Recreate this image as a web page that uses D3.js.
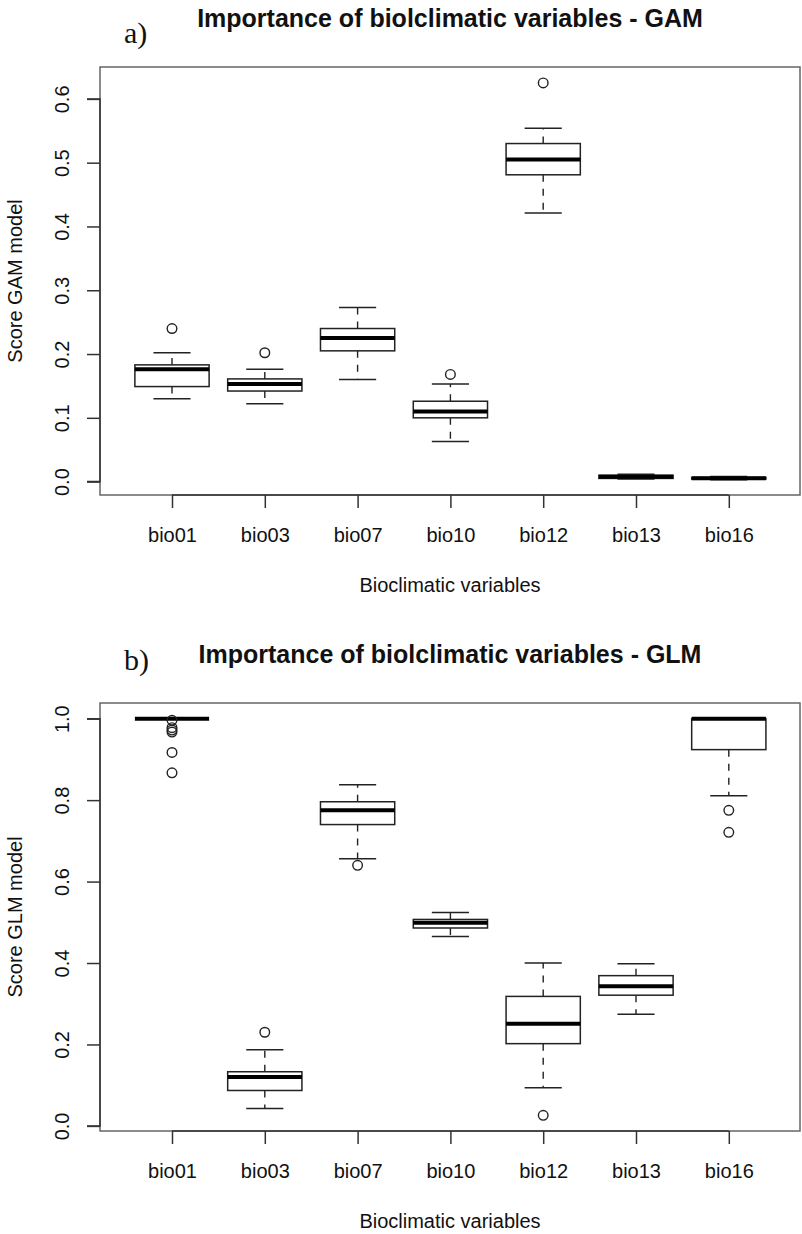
<!DOCTYPE html>
<html>
<head>
<meta charset="utf-8">
<script src="https://cdn.jsdelivr.net/npm/d3@7"></script>
<style>
  html, body { margin: 0; padding: 0; background: #fff; }
  svg { display: block; }
  text { font-family: "Liberation Sans", Arial, Helvetica, sans-serif; fill: #111; }
</style>
</head>
<body>
<svg id="chart" width="802" height="1234"></svg>
<script>
// Bioclimatic variables on the x axis
const categories = ["bio01", "bio03", "bio07", "bio10", "bio12", "bio13", "bio16"];

// GAM model importance scores: five-number summaries and outliers per variable
const gamLow    = [0.130, 0.122, 0.160, 0.063, 0.421, 0.004, 0.003];
const gamQ1     = [0.149, 0.142, 0.205, 0.100, 0.481, 0.005, 0.004];
const gamMedian = [0.176, 0.153, 0.225, 0.110, 0.505, 0.0075, 0.0052];
const gamQ3     = [0.183, 0.161, 0.240, 0.126, 0.530, 0.010, 0.0065];
const gamHigh   = [0.202, 0.176, 0.273, 0.153, 0.554, 0.0115, 0.008];
const gamOutliers = [[0.240], [0.202], [], [0.168], [0.625], [], []];

// GLM model importance scores
const glmLow    = [1.000, 0.043, 0.656, 0.465, 0.094, 0.274, 0.811];
const glmQ1     = [1.000, 0.087, 0.740, 0.486, 0.202, 0.321, 0.924];
const glmMedian = [1.000, 0.120, 0.775, 0.499, 0.251, 0.343, 1.000];
const glmQ3     = [1.000, 0.133, 0.796, 0.507, 0.318, 0.369, 1.000];
const glmHigh   = [1.000, 0.187, 0.838, 0.524, 0.400, 0.398, 1.000];
const glmOutliers = [[0.996, 0.978, 0.972, 0.967, 0.917, 0.867], [0.230], [0.640], [], [0.026], [], [0.775, 0.721]];

// Axis ticks and labels
const gamTicks = [0.0, 0.1, 0.2, 0.3, 0.4, 0.5, 0.6];
const glmTicks = [0.0, 0.2, 0.4, 0.6, 0.8, 1.0];
const titles = ["Importance of biolclimatic variables - GAM", "Importance of biolclimatic variables - GLM"];
const yTitles = ["Score GAM model", "Score GLM model"];
const panelTags = ["a)", "b)"];
const xTitle = "Bioclimatic variables";

// Layout of one panel (panel-local coordinates)
const plotLeft = 100, plotRight = 800, plotTop = 67, plotBottom = 495;
const panelOffsets = [0, 636];
const tagBaselines = [43, 34];

const svg = d3.select("#chart");

function buildPanel(idx, stats, ticks, yDomain) {
  const g = svg.append("g").attr("transform", `translate(0,${panelOffsets[idx]})`);

  const x = d3.scaleLinear().domain([1, 7]).range([172, 728.8]);
  const y = d3.scaleLinear().domain(yDomain).range([plotBottom, plotTop]);
  const step = x(2) - x(1);
  const boxW = step * 0.8, capW = step * 0.4;

  // plot frame
  g.append("rect")
    .attr("x", plotLeft).attr("y", plotTop)
    .attr("width", plotRight - plotLeft).attr("height", plotBottom - plotTop)
    .attr("fill", "none").attr("stroke", "#666").attr("stroke-width", 1.5);

  // y axis
  const yAxis = d3.axisLeft(y).tickValues(ticks).tickSize(13).tickFormat(d3.format(".1f"));
  const ya = g.append("g").attr("transform", `translate(${plotLeft},0)`).call(yAxis);
  ya.select(".domain").attr("stroke", "#333").attr("stroke-width", 1.5)
    .attr("d", `M-13,${y(ticks[0])}H0V${y(ticks[ticks.length - 1])}H-13`);
  ya.selectAll(".tick line").attr("stroke", "#333").attr("stroke-width", 1.5);
  ya.selectAll(".tick text")
    .attr("x", null).attr("dy", null)
    .attr("transform", "translate(-31,0) rotate(-90)")
    .attr("text-anchor", "middle")
    .style("font-size", "20px").attr("fill", "#111")
    .style("font-family", '"Liberation Sans", Arial, sans-serif');

  // x axis
  const xAxis = d3.axisBottom(x).tickValues(d3.range(1, 8)).tickSize(13)
    .tickFormat(i => categories[i - 1]);
  const xa = g.append("g").attr("transform", `translate(0,${plotBottom})`).call(xAxis);
  xa.select(".domain").attr("stroke", "#333").attr("stroke-width", 1.5)
    .attr("d", `M${x(1)},0H${x(7)}`);
  xa.selectAll(".tick line").attr("stroke", "#333").attr("stroke-width", 1.5);
  xa.selectAll(".tick text")
    .attr("y", 47).attr("dy", null)
    .style("font-size", "20px").attr("fill", "#111")
    .style("font-family", '"Liberation Sans", Arial, sans-serif');

  // titles
  g.append("text").attr("x", (plotLeft + plotRight) / 2).attr("y", 27)
    .attr("text-anchor", "middle").style("font-size", "25px").style("font-weight", "bold")
    .text(titles[idx]);
  g.append("text").attr("x", 124).attr("y", tagBaselines[idx])
    .style("font-family", '"Liberation Serif", "DejaVu Serif", serif').style("font-size", "30px")
    .text(panelTags[idx]);
  g.append("text").attr("transform", `translate(22,${(plotTop + plotBottom) / 2}) rotate(-90)`)
    .attr("text-anchor", "middle").style("font-size", "20px").text(yTitles[idx]);
  g.append("text").attr("x", (plotLeft + plotRight) / 2).attr("y", 592)
    .attr("text-anchor", "middle").style("font-size", "20px").text(xTitle);

  // boxes
  const rows = categories.map((c, i) => ({
    i: i + 1, low: stats.low[i], q1: stats.q1[i], med: stats.med[i],
    q3: stats.q3[i], high: stats.high[i], out: stats.out[i]
  }));
  const b = g.selectAll(".box").data(rows).join("g").attr("class", "box");
  const ink = "#222";

  // dashed whiskers
  b.append("line").attr("x1", d => x(d.i)).attr("x2", d => x(d.i))
    .attr("y1", d => y(d.q3)).attr("y2", d => y(d.high))
    .attr("stroke", ink).attr("stroke-width", 1.4).attr("stroke-dasharray", "7,7");
  b.append("line").attr("x1", d => x(d.i)).attr("x2", d => x(d.i))
    .attr("y1", d => y(d.q1)).attr("y2", d => y(d.low))
    .attr("stroke", ink).attr("stroke-width", 1.4).attr("stroke-dasharray", "7,7");
  // whisker caps
  b.append("line").attr("x1", d => x(d.i) - capW / 2).attr("x2", d => x(d.i) + capW / 2)
    .attr("y1", d => y(d.high)).attr("y2", d => y(d.high))
    .attr("stroke", ink).attr("stroke-width", 1.5);
  b.append("line").attr("x1", d => x(d.i) - capW / 2).attr("x2", d => x(d.i) + capW / 2)
    .attr("y1", d => y(d.low)).attr("y2", d => y(d.low))
    .attr("stroke", ink).attr("stroke-width", 1.5);
  // box
  b.append("rect").attr("x", d => x(d.i) - boxW / 2).attr("width", boxW)
    .attr("y", d => y(d.q3)).attr("height", d => Math.max(0, y(d.q1) - y(d.q3)))
    .attr("fill", "#fff").attr("stroke", ink).attr("stroke-width", 1.5);
  // median
  b.append("line").attr("x1", d => x(d.i) - boxW / 2).attr("x2", d => x(d.i) + boxW / 2)
    .attr("y1", d => y(d.med)).attr("y2", d => y(d.med))
    .attr("stroke", "#000").attr("stroke-width", 4);
  // outliers
  b.selectAll("circle").data(d => d.out.map(v => ({ i: d.i, v }))).join("circle")
    .attr("cx", d => x(d.i)).attr("cy", d => y(d.v)).attr("r", 4.8)
    .attr("fill", "none").attr("stroke", ink).attr("stroke-width", 1.4);
}

buildPanel(0, { low: gamLow, q1: gamQ1, med: gamMedian, q3: gamQ3, high: gamHigh, out: gamOutliers },
  gamTicks, [-0.021, 0.65]);
buildPanel(1, { low: glmLow, q1: glmQ1, med: glmMedian, q3: glmQ3, high: glmHigh, out: glmOutliers },
  glmTicks, [-0.0125, 1.0385]);
</script>
</body>
</html>
